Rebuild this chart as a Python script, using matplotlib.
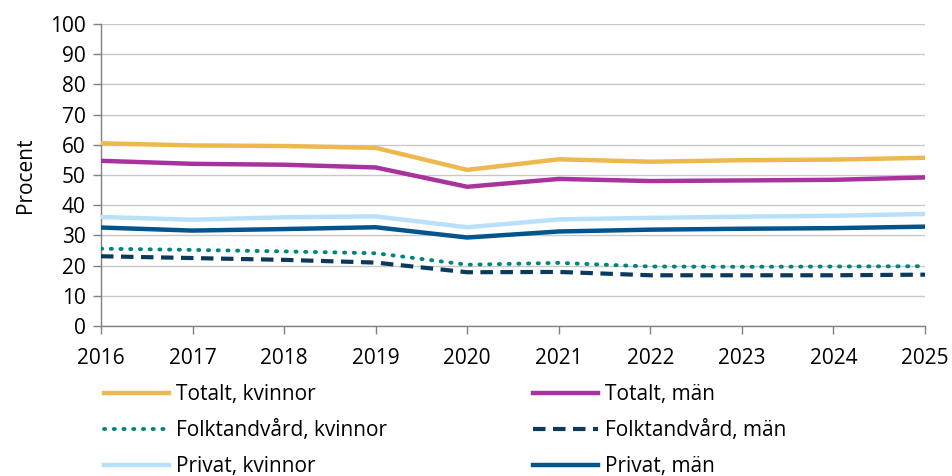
import matplotlib
matplotlib.use("Agg")
import matplotlib.pyplot as plt

plt.rcParams['font.family'] = ['Open Sans', 'DejaVu Sans']

years = [2016, 2017, 2018, 2019, 2020, 2021, 2022, 2023, 2024, 2025]
totalt_kvinnor = [60.5, 59.8, 59.6, 59.0, 51.7, 55.2, 54.4, 54.9, 55.1, 55.7]
totalt_man = [54.7, 53.7, 53.4, 52.5, 46.1, 48.7, 48.0, 48.2, 48.4, 49.2]
folk_kvinnor = [25.6, 25.2, 24.7, 24.1, 20.3, 20.9, 19.7, 19.6, 19.7, 19.8]
folk_man = [23.1, 22.5, 21.9, 21.0, 17.8, 17.9, 16.8, 16.8, 16.8, 17.0]
privat_kvinnor = [36.1, 35.2, 36.0, 36.3, 32.7, 35.3, 35.8, 36.2, 36.5, 37.1]
privat_man = [32.6, 31.6, 32.1, 32.7, 29.3, 31.3, 31.9, 32.2, 32.4, 32.9]
yticks = list(range(0, 101, 10))

fig = plt.figure(figsize=(9.52, 4.76), dpi=100)
ax = fig.add_axes([101/952, 1 - 326/476, (925 - 101)/952, (326 - 24)/476])

c_tk = '#EDB94E'
c_tm = '#A8339E'
c_fk = '#00857A'
c_fm = '#0B3A5C'
c_pk = '#B8E0FB'
c_pm = '#00558C'

fs = 15
lw = 3.2
ax.plot(years, totalt_kvinnor, color=c_tk, lw=lw, label='Totalt, kvinnor', zorder=3)
ax.plot(years, totalt_man, color=c_tm, lw=lw, label='Totalt, män', zorder=3)
ax.plot(years, folk_kvinnor, color=c_fk, lw=2.8, ls=(0, (0.3, 2.2)), dash_capstyle='round',
        label='Folktandvård, kvinnor', zorder=3)
ax.plot(years, folk_man, color=c_fm, lw=3.0, ls=(0, (3, 1.8)), label='Folktandvård, män', zorder=3)
ax.plot(years, privat_kvinnor, color=c_pk, lw=lw, label='Privat, kvinnor', zorder=3)
ax.plot(years, privat_man, color=c_pm, lw=lw, label='Privat, män', zorder=3)

ax.set_xlim(2016, 2025)
ax.set_ylim(0, 100)
ax.set_yticks(yticks)
ax.set_xticks(years)
ax.grid(axis='y', color='#C8C8C8', lw=1.0, zorder=0)
for s in ['top', 'right']:
    ax.spines[s].set_visible(False)
for s in ['left', 'bottom']:
    ax.spines[s].set_color('#808080')
    ax.spines[s].set_linewidth(1.0)
ax.tick_params(axis='both', colors='#808080', labelcolor='black', labelsize=fs, length=6, width=1.0)
ax.tick_params(axis='x', pad=10)
ax.tick_params(axis='y', pad=5)
ax.set_ylabel('Procent', fontsize=fs, labelpad=10)

handles = ax.get_lines()
left = [handles[0], handles[2], handles[4]]
right = [handles[1], handles[3], handles[5]]
kw = dict(frameon=False, fontsize=fs, handlelength=3.1, handletextpad=0.35,
          labelspacing=0.72, borderaxespad=0, borderpad=0, loc='upper left')
leg1 = fig.legend(left, [h.get_label() for h in left], bbox_to_anchor=(104/952, 1 - 384/476), **kw)
leg2 = fig.legend(right, [h.get_label() for h in right], bbox_to_anchor=(533/952, 1 - 384/476), **kw)

fig.savefig('out.png', dpi=100)
